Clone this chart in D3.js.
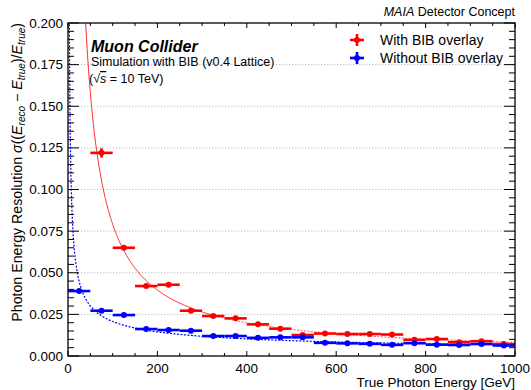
<!DOCTYPE html>
<html><head><meta charset="utf-8">
<script src="https://cdn.jsdelivr.net/npm/d3@7"></script>
<style>
body{margin:0;background:#fff;}
text{font-family:"Liberation Sans",Arial,Helvetica,sans-serif;fill:#000;}
</style>
</head><body>
<svg id="c" width="531" height="390"></svg>
<script>
// ---------------- data ----------------
const binCenters = [25,75,125,175,225,275,325,375,425,475,525,575,625,675,725,775,825,875,925,975];
const binWidth = 50;
const withBIB = [null,0.122,0.065,0.042,0.0428,0.0272,0.024,0.0226,0.019,0.0164,0.0126,0.0135,0.0132,0.0132,0.0129,0.0097,0.0102,0.0083,0.0089,0.0072];
const withBIBErr = [null,0.0028,0.0012,0.0008,0.0008,0.0006,0.0005,0.0005,0.0005,0.0005,0.0005,0.0004,0.0004,0.0004,0.0004,0.0004,0.0004,0.0004,0.0004,0.0004];
const withoutBIB = [0.039,0.0272,0.0246,0.0162,0.0156,0.0152,0.012,0.012,0.0109,0.0112,0.0112,0.0079,0.0076,0.0073,0.0067,0.0077,0.0068,0.0066,0.0072,0.0063];
const withoutBIBErr = [0.001,0.0006,0.0005,0.0004,0.0004,0.0004,0.0004,0.0004,0.0004,0.0004,0.0004,0.0003,0.0003,0.0003,0.0003,0.0003,0.0003,0.0003,0.0003,0.0003];
// fit parameters: sigma/E = sqrt(a^2/E + (b/E)^2 + c^2)
const withBIBFit = [0.03, 7.9, 0.002];
const withoutBIBFit = [0.2, 0.5, 0.002];
const xTicks = [0,200,400,600,800,1000];
const yTicks = [0,0.025,0.05,0.075,0.1,0.125,0.15,0.175,0.2];
const yTickLabels = ["0.000","0.025","0.050","0.075","0.100","0.125","0.150","0.175","0.200"];
const legendLabels = ["With BIB overlay","Without BIB overlay"];

// ---------------- layout ----------------
const W=531,H=390;
const m={l:68,r:16,t:23,b:34};
const svg=d3.select("#c");
const x=d3.scaleLinear().domain([0,1000]).range([m.l,W-m.r]);
const y=d3.scaleLinear().domain([0,0.2]).range([H-m.b,m.t]);
const RED="#ff0000",BLUE="#0000ff";

svg.append("defs").append("clipPath").attr("id","clip")
  .append("rect").attr("x",m.l).attr("y",m.t).attr("width",x(1000)-m.l).attr("height",y(0)-m.t);

// grid
svg.append("g").selectAll("line").data(yTicks.filter(v=>v>0&&v<0.2)).join("line")
  .attr("x1",m.l).attr("x2",x(1000)).attr("y1",d=>y(d)).attr("y2",d=>y(d))
  .attr("stroke","#b8b8b8").attr("stroke-width",1).attr("stroke-dasharray","1.2,2");

// fit curves
function fitFn(p){return E=>Math.sqrt(p[0]*p[0]/E+(p[1]/E)*(p[1]/E)+p[2]*p[2]);}
function curve(p,from,to,n){
  const f=fitFn(p),pts=[];
  for(let i=0;i<=n;i++){const E=from*Math.pow(to/from,i/n);pts.push([E,f(E)]);}
  return pts;
}
const line=d3.line().x(d=>x(d[0])).y(d=>y(Math.min(d[1],0.3)));
const cg=svg.append("g").attr("clip-path","url(#clip)");
cg.append("path").attr("d",line(curve(withBIBFit,30,320,300))).attr("fill","none")
  .attr("stroke",RED).attr("stroke-width",1).attr("opacity",0.85);
cg.append("path").attr("d",line(curve(withBIBFit,320,1000,200))).attr("fill","none")
  .attr("stroke",RED).attr("stroke-width",1).attr("stroke-dasharray","2,1.5").attr("opacity",0.7);
cg.append("path").attr("d",line(curve(withoutBIBFit,1.5,1000,500))).attr("fill","none")
  .attr("stroke",BLUE).attr("stroke-width",1.2).attr("stroke-dasharray","2,1.5");

// data points
function drawSeries(vals,errs,col){
  const g=svg.append("g");
  const data=binCenters.map((c,i)=>({c,v:vals[i],e:errs[i]})).filter(d=>d.v!=null);
  g.selectAll("line.h").data(data).join("line").attr("class","h")
    .attr("x1",d=>x(d.c-binWidth/2)).attr("x2",d=>x(d.c+binWidth/2))
    .attr("y1",d=>y(d.v)).attr("y2",d=>y(d.v)).attr("stroke",col).attr("stroke-width",2.6);
  g.selectAll("line.v").data(data).join("line").attr("class","v")
    .attr("x1",d=>x(d.c)).attr("x2",d=>x(d.c))
    .attr("y1",d=>y(d.v-d.e)).attr("y2",d=>y(d.v+d.e)).attr("stroke",col).attr("stroke-width",2.6);
  g.selectAll("circle").data(data).join("circle")
    .attr("cx",d=>x(d.c)).attr("cy",d=>y(d.v)).attr("r",3).attr("fill",col);
}
drawSeries(withBIB,withBIBErr,RED);
drawSeries(withoutBIB,withoutBIBErr,BLUE);

// frame & ticks
const ax=svg.append("g").attr("stroke","#000");
ax.append("rect").attr("x",m.l).attr("y",m.t).attr("width",x(1000)-m.l).attr("height",y(0)-m.t)
  .attr("fill","none").attr("stroke-width",1.3);
const yMinor=d3.range(0,0.2001,0.005);
yMinor.forEach(v=>{
  const major=Math.abs(v/0.025-Math.round(v/0.025))<1e-6;
  const L=major?11:6;
  ax.append("line").attr("x1",m.l).attr("x2",m.l+L).attr("y1",y(v)).attr("y2",y(v)).attr("stroke-width",1);
  ax.append("line").attr("x1",x(1000)).attr("x2",x(1000)-L).attr("y1",y(v)).attr("y2",y(v)).attr("stroke-width",1);
});
const xMinor=d3.range(0,1001,50);
xMinor.forEach(v=>{
  const major=v%200===0;
  const L=major?5:3;
  ax.append("line").attr("x1",x(v)).attr("x2",x(v)).attr("y1",y(0)).attr("y2",y(0)-L).attr("stroke-width",1);
  ax.append("line").attr("x1",x(v)).attr("x2",x(v)).attr("y1",m.t).attr("y2",m.t+L).attr("stroke-width",1);
});

// tick labels
svg.append("g").selectAll("text").data(yTicks).join("text")
  .attr("x",m.l-5).attr("y",d=>y(d)+4.5).attr("text-anchor","end").attr("font-size",13.5)
  .text((d,i)=>yTickLabels[i]);
svg.append("g").selectAll("text").data(xTicks).join("text")
  .attr("x",d=>x(d)).attr("y",y(0)+17).attr("text-anchor","middle").attr("font-size",13.5)
  .text(d=>d);

// axis titles
svg.append("text").attr("x",x(1000)).attr("y",387).attr("text-anchor","end").attr("font-size",13.5)
  .text("True Photon Energy [GeV]");
const yt=svg.append("text").attr("transform",`translate(22,${m.t}) rotate(-90)`)
  .attr("text-anchor","end").attr("font-size",14.2);
yt.append("tspan").text("Photon Energy Resolution ");
yt.append("tspan").attr("font-style","italic").text("σ");
yt.append("tspan").text("((");
yt.append("tspan").attr("font-style","italic").text("E");
yt.append("tspan").attr("font-style","italic").attr("font-size",10).attr("dy",3).text("reco");
yt.append("tspan").attr("dy",-3).text(" − ");
yt.append("tspan").attr("font-style","italic").text("E");
yt.append("tspan").attr("font-style","italic").attr("font-size",10).attr("dy",3).text("true");
yt.append("tspan").attr("dy",-3).text(")/");
yt.append("tspan").attr("font-style","italic").text("E");
yt.append("tspan").attr("font-style","italic").attr("font-size",10).attr("dy",3).text("true");
yt.append("tspan").attr("dy",-3).text(")");

// top-right label
const tr=svg.append("text").attr("x",x(1000)).attr("y",16).attr("text-anchor","end").attr("font-size",12.5);
tr.append("tspan").attr("font-style","italic").text("MAIA");
tr.append("tspan").text(" Detector Concept");

// annotations
svg.append("text").attr("x",91).attr("y",52).attr("font-size",16).attr("font-weight","bold").attr("font-style","italic")
  .text("Muon Collider");
svg.append("text").attr("x",91).attr("y",66).attr("font-size",12.5).text("Simulation with BIB (v0.4 Lattice)");
const rs=svg.append("text").attr("x",89).attr("y",83).attr("font-size",12.5);
rs.append("tspan").text("(√");
rs.append("tspan").attr("font-style","italic").attr("text-decoration","overline").text("s");
rs.append("tspan").text(" = 10 TeV)");

// legend
const lg=svg.append("g");
[[RED,40],[BLUE,58]].forEach((d,i)=>{
  const cx=357,cy=d[1];
  lg.append("line").attr("x1",cx-7).attr("x2",cx+7).attr("y1",cy).attr("y2",cy).attr("stroke",d[0]).attr("stroke-width",2.6);
  lg.append("line").attr("x1",cx).attr("x2",cx).attr("y1",cy-6).attr("y2",cy+6).attr("stroke",d[0]).attr("stroke-width",2.6);
  lg.append("circle").attr("cx",cx).attr("cy",cy).attr("r",3).attr("fill",d[0]);
  lg.append("text").attr("x",380).attr("y",cy+5).attr("font-size",14).text(legendLabels[i]);
});
</script>
</body></html>
